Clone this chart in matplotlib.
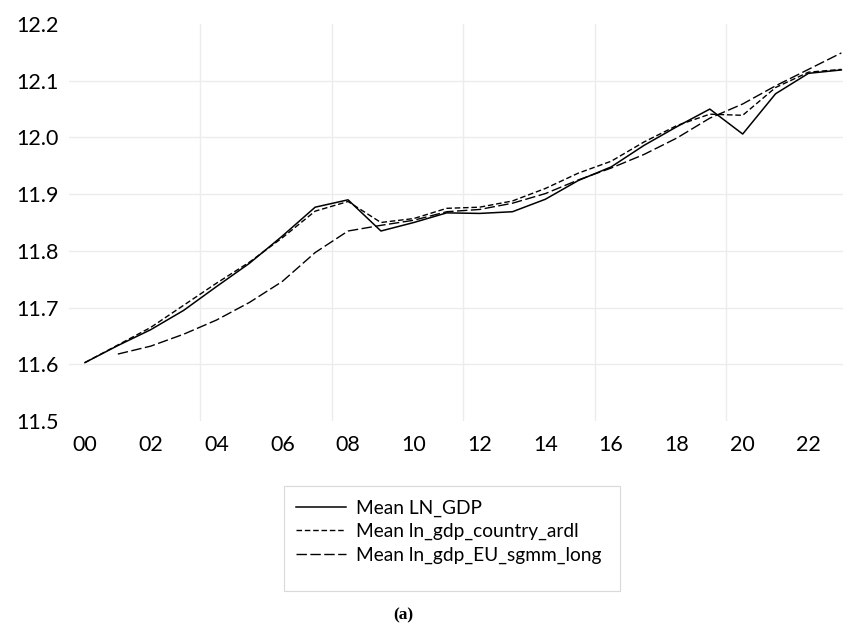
import matplotlib.pyplot as plt
from matplotlib.patches import Rectangle
import numpy as np

years = np.arange(24)
tick_labels = ['00', '02', '04', '06', '08', '10', '12', '14', '16', '18', '20', '22']

ln_gdp = [11.603, 11.633, 11.661, 11.695, 11.737, 11.778, 11.826, 11.877, 11.890, 11.835,
          11.850, 11.867, 11.866, 11.869, 11.891, 11.924, 11.948, 11.986, 12.019, 12.050,
          12.006, 12.077, 12.113, 12.119]
country_ardl = [11.603, 11.634, 11.665, 11.704, 11.743, 11.780, 11.823, 11.870, 11.887, 11.850,
                11.857, 11.875, 11.877, 11.888, 11.910, 11.937, 11.958, 11.992, 12.021, 12.041,
                12.039, 12.088, 12.115, 12.120]
eu_sgmm_long = [np.nan, 11.618, 11.632, 11.653, 11.678, 11.709, 11.746, 11.797, 11.835, 11.845,
                11.854, 11.869, 11.873, 11.884, 11.901, 11.925, 11.946, 11.970, 11.999, 12.034,
                12.059, 12.091, 12.120, 12.149]

plt.rcParams['font.family'] = ['Lato', 'DejaVu Sans']

W, H = 843, 627
fig = plt.figure(figsize=(W / 100, H / 100), dpi=100)
ax = fig.add_axes([68.5 / W, 1 - 421 / H, 1 - 68.5 / W, (421 - 24) / H])

grid_col = '#ececec'
for y in [11.6, 11.7, 11.8, 11.9, 12.0, 12.1]:
    ax.axhline(y, color=grid_col, lw=1.0, zorder=0)
for x in [3.5, 7.5, 11.5, 15.5, 19.5]:
    ax.axvline(x, color=grid_col, lw=1.0, zorder=0)

ax.plot(years, ln_gdp, color='black', lw=1.1, label='Mean LN_GDP')
ax.plot(years, country_ardl, color='black', lw=1.0, dashes=(4, 2),
        label='Mean ln_gdp_country_ardl')
ax.plot(years, eu_sgmm_long, color='black', lw=1.0, dashes=(7.5, 2.5),
        label='Mean ln_gdp_EU_sgmm_long')

ax.set_xlim(-0.5, 23.05)
ax.set_ylim(11.5, 12.2)
ax.set_xticks(years[::2])
ax.set_xticklabels(tick_labels)
yt = np.round(np.arange(11.5, 12.21, 0.1), 1)
ax.set_yticks(yt)
ax.set_yticklabels([f'{v:.1f}' for v in yt])
ax.tick_params(axis='both', length=0, labelsize=15.5, colors='black')
ax.tick_params(axis='x', pad=10)
ax.tick_params(axis='y', pad=7)
for s in ax.spines.values():
    s.set_visible(False)

# legend box drawn separately so its padding can be uneven
fig.patches.append(Rectangle((284 / W, 1 - 591 / H), (620 - 284) / W, (591 - 486) / H,
                             transform=fig.transFigure, facecolor='white',
                             edgecolor='#d9d9d9', lw=0.8, zorder=1))
fig.legend(loc='upper left', bbox_to_anchor=(284 / W, 1 - 488 / H), borderaxespad=0,
           fontsize=13.8, frameon=False, handlelength=2.6, handletextpad=0.52,
           labelspacing=0.31, borderpad=0.62)

fig.text(403 / W, 1 - 615 / H, '(a)', ha='center', va='center',
         fontsize=12.5, fontweight='bold', family='Liberation Serif')

fig.savefig('out.png', dpi=100)
